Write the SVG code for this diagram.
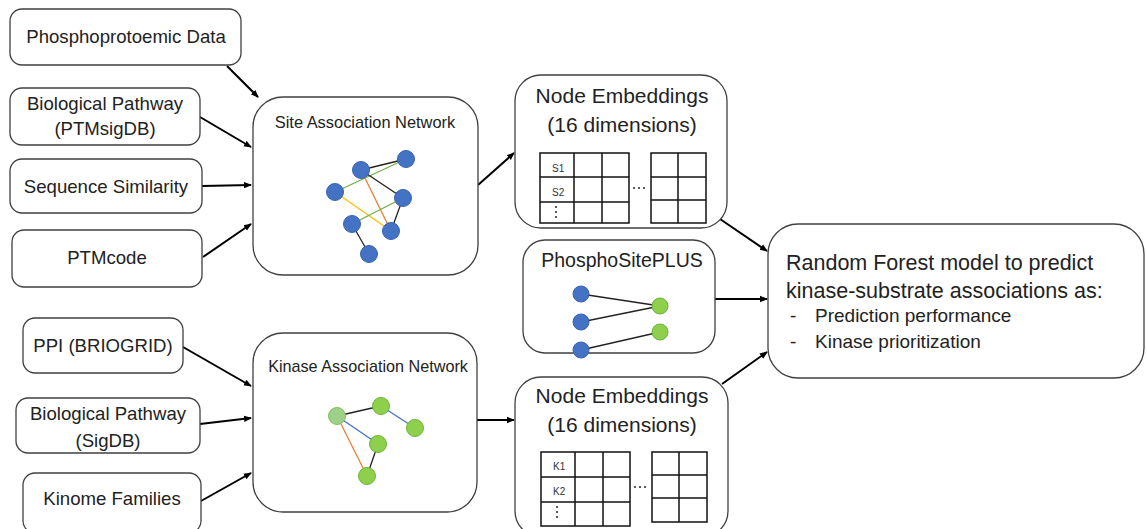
<svg xmlns="http://www.w3.org/2000/svg" width="1147" height="529" viewBox="0 0 1147 529">
<defs>
<marker id="ah" markerWidth="8" markerHeight="8" refX="7" refY="4" orient="auto" markerUnits="userSpaceOnUse">
<path d="M0,0.8 L8,4 L0,7.2 Z" fill="#000"/>
</marker>
<style>
.box{fill:#fff;stroke:#404040;stroke-width:1.3}
.t{font-family:"Liberation Sans",Arial,sans-serif;fill:#222;text-anchor:middle}
.tl{font-family:"Liberation Sans",Arial,sans-serif;fill:#222}
.lf{font-size:18.6px}
.conn{stroke:#000;stroke-width:2;fill:none;marker-end:url(#ah)}
.grid{stroke:#111;stroke-width:1.5;fill:#fff}
.gl{stroke:#111;stroke-width:1.5}
.bn{fill:#4472C4;stroke:#3a63ad;stroke-width:1}
.gn{fill:#8ED04C;stroke:#6cb33a;stroke-width:1}
.e{stroke-width:1.3;fill:none}
.sm{font-family:"Liberation Sans",Arial,sans-serif;font-size:10px;fill:#333}
</style>
</defs>
<rect width="1147" height="529" fill="#fff"/>

<g id="connectors">
<line class="conn" x1="227" y1="66" x2="258" y2="97"/>
<line class="conn" x1="200" y1="117" x2="251" y2="147"/>
<line class="conn" x1="202" y1="186" x2="251" y2="185"/>
<line class="conn" x1="203" y1="257" x2="251" y2="224"/>
<line class="conn" x1="183" y1="347" x2="251" y2="386"/>
<line class="conn" x1="200" y1="424" x2="251" y2="418"/>
<line class="conn" x1="201" y1="501" x2="251" y2="473"/>
<line class="conn" x1="478" y1="185" x2="514" y2="153"/>
<line class="conn" x1="477" y1="420" x2="514" y2="420"/>
<line class="conn" x1="720" y1="219" x2="767" y2="251"/>
<line class="conn" x1="715" y1="299" x2="767" y2="299"/>
<line class="conn" x1="722" y1="384" x2="767" y2="352"/>
</g>

<g id="n-phospho">
<rect class="box" x="10" y="9" width="231" height="56" rx="12"/>
<text class="t lf" x="126" y="43">Phosphoprotoemic Data</text>
</g>
<g id="n-biopath1">
<rect class="box" x="10" y="88" width="190" height="57" rx="12"/>
<text class="t lf" x="105" y="110">Biological Pathway</text>
<text class="t lf" x="105" y="135">(PTMsigDB)</text>
</g>
<g id="n-seqsim">
<rect class="box" x="10" y="159" width="192" height="54" rx="12"/>
<text class="t lf" x="106" y="193">Sequence Similarity</text>
</g>
<g id="n-ptmcode">
<rect class="box" x="12" y="230" width="190" height="57" rx="12"/>
<text class="t lf" x="107" y="264">PTMcode</text>
</g>
<g id="n-ppi">
<rect class="box" x="23" y="318" width="160" height="55" rx="12"/>
<text class="t lf" x="103" y="352">PPI (BRIOGRID)</text>
</g>
<g id="n-biopath2">
<rect class="box" x="16" y="398" width="184" height="55" rx="12"/>
<text class="t lf" x="108" y="420">Biological Pathway</text>
<text class="t lf" x="108" y="447">(SigDB)</text>
</g>
<g id="n-kinome">
<rect class="box" x="23" y="473" width="178" height="60" rx="12"/>
<text class="t lf" x="112" y="505">Kinome Families</text>
</g>

<g id="n-site-network">
<rect class="box" x="253" y="97" width="225" height="178" rx="30"/>
<text class="t" x="365" y="128" font-size="16.4">Site Association Network</text>
<line class="e" stroke="#222" x1="361" y1="170" x2="406" y2="159"/>
<line class="e" stroke="#70AD47" x1="335" y1="192" x2="406" y2="159"/>
<line class="e" stroke="#222" x1="361" y1="170" x2="403" y2="198"/>
<line class="e" stroke="#ED7D31" x1="361" y1="170" x2="391" y2="231"/>
<line class="e" stroke="#FFC000" x1="335" y1="192" x2="391" y2="231"/>
<line class="e" stroke="#70AD47" x1="352" y1="224" x2="403" y2="198"/>
<line class="e" stroke="#222" x1="403" y1="198" x2="391" y2="231"/>
<line class="e" stroke="#222" x1="352" y1="224" x2="369" y2="254"/>
<circle class="bn" cx="361" cy="170" r="8.5"/>
<circle class="bn" cx="406" cy="159" r="8.5"/>
<circle class="bn" cx="335" cy="192" r="8.5"/>
<circle class="bn" cx="403" cy="198" r="8.5"/>
<circle class="bn" cx="352" cy="224" r="8.5"/>
<circle class="bn" cx="391" cy="231" r="8.5"/>
<circle class="bn" cx="369" cy="254" r="8.5"/>
</g>

<g id="n-kinase-network">
<rect class="box" x="253" y="333" width="224" height="179" rx="30"/>
<text class="t" x="368" y="372" font-size="16.2">Kinase Association Network</text>
<line class="e" stroke="#222" x1="337" y1="416" x2="381" y2="406"/>
<line class="e" stroke="#4472C4" x1="381" y1="406" x2="415" y2="428"/>
<line class="e" stroke="#4472C4" x1="337" y1="416" x2="378" y2="444"/>
<line class="e" stroke="#ED7D31" x1="337" y1="416" x2="367" y2="476"/>
<line class="e" stroke="#222" x1="378" y1="444" x2="367" y2="476"/>
<circle cx="337" cy="416" r="8.5" fill="#9ED08A" stroke="#7fbf5c" stroke-width="1"/>
<circle class="gn" cx="381" cy="406" r="8.5"/>
<circle class="gn" cx="415" cy="428" r="8.5"/>
<circle class="gn" cx="378" cy="444" r="8.5"/>
<circle class="gn" cx="367" cy="476" r="8.5"/>
</g>

<g id="n-embed-site">
<rect class="box" x="515" y="75" width="212" height="153" rx="26"/>
<text class="t" x="622" y="103" font-size="21">Node Embeddings</text>
<text class="t" x="622" y="132" font-size="21">(16 dimensions)</text>
<rect class="grid" x="540" y="153" width="89" height="70"/>
<line class="gl" x1="574" y1="153" x2="574" y2="223"/>
<line class="gl" x1="602" y1="153" x2="602" y2="223"/>
<line class="gl" x1="540" y1="177" x2="629" y2="177"/>
<line class="gl" x1="540" y1="202" x2="629" y2="202"/>
<text class="sm" x="552" y="172">S1</text>
<text class="sm" x="552" y="196">S2</text>
<circle cx="556" cy="207" r="1.1" fill="#333"/>
<circle cx="556" cy="212" r="1.1" fill="#333"/>
<circle cx="556" cy="217" r="1.1" fill="#333"/>
<circle cx="634" cy="188" r="1.1" fill="#333"/>
<circle cx="639" cy="188" r="1.1" fill="#333"/>
<circle cx="644" cy="188" r="1.1" fill="#333"/>
<rect class="grid" x="651" y="153" width="55" height="70"/>
<line class="gl" x1="678" y1="153" x2="678" y2="223"/>
<line class="gl" x1="651" y1="177" x2="706" y2="177"/>
<line class="gl" x1="651" y1="200" x2="706" y2="200"/>
</g>

<g id="n-phosphositeplus">
<rect class="box" x="523" y="240" width="192" height="113" rx="22"/>
<text class="t" x="622" y="267" font-size="19.5">PhosphoSitePLUS</text>
<line class="e" stroke="#222" x1="581" y1="294" x2="660" y2="306"/>
<line class="e" stroke="#222" x1="581" y1="322" x2="660" y2="306"/>
<line class="e" stroke="#222" x1="581" y1="350" x2="660" y2="332"/>
<circle class="bn" cx="581" cy="294" r="8"/>
<circle class="bn" cx="581" cy="322" r="8"/>
<circle class="bn" cx="581" cy="350" r="8"/>
<circle class="gn" cx="660" cy="306" r="8"/>
<circle class="gn" cx="660" cy="332" r="8"/>
</g>

<g id="n-embed-kinase">
<rect class="box" x="515" y="377" width="213" height="160" rx="26"/>
<text class="t" x="622" y="403" font-size="21">Node Embeddings</text>
<text class="t" x="622" y="432" font-size="21">(16 dimensions)</text>
<rect class="grid" x="541" y="452" width="89" height="74"/>
<line class="gl" x1="575" y1="452" x2="575" y2="526"/>
<line class="gl" x1="603" y1="452" x2="603" y2="526"/>
<line class="gl" x1="541" y1="477" x2="630" y2="477"/>
<line class="gl" x1="541" y1="502" x2="630" y2="502"/>
<text class="sm" x="553" y="470">K1</text>
<text class="sm" x="553" y="495">K2</text>
<circle cx="557" cy="507" r="1.1" fill="#333"/>
<circle cx="557" cy="512" r="1.1" fill="#333"/>
<circle cx="557" cy="517" r="1.1" fill="#333"/>
<circle cx="635" cy="487" r="1.1" fill="#333"/>
<circle cx="640" cy="487" r="1.1" fill="#333"/>
<circle cx="645" cy="487" r="1.1" fill="#333"/>
<rect class="grid" x="652" y="452" width="55" height="70"/>
<line class="gl" x1="679" y1="452" x2="679" y2="522"/>
<line class="gl" x1="652" y1="475" x2="707" y2="475"/>
<line class="gl" x1="652" y1="498" x2="707" y2="498"/>
</g>

<g id="n-random-forest">
<rect class="box" x="768" y="224" width="376" height="154" rx="30"/>
<text class="tl" x="786" y="270" font-size="21.5">Random Forest model to predict</text>
<text class="tl" x="786" y="298" font-size="21.5">kinase-substrate associations as:</text>
<text class="tl" x="790" y="322" font-size="19">-</text>
<text class="tl" x="815" y="322" font-size="19">Prediction performance</text>
<text class="tl" x="790" y="348" font-size="19">-</text>
<text class="tl" x="815" y="348" font-size="19">Kinase prioritization</text>
</g>
</svg>
